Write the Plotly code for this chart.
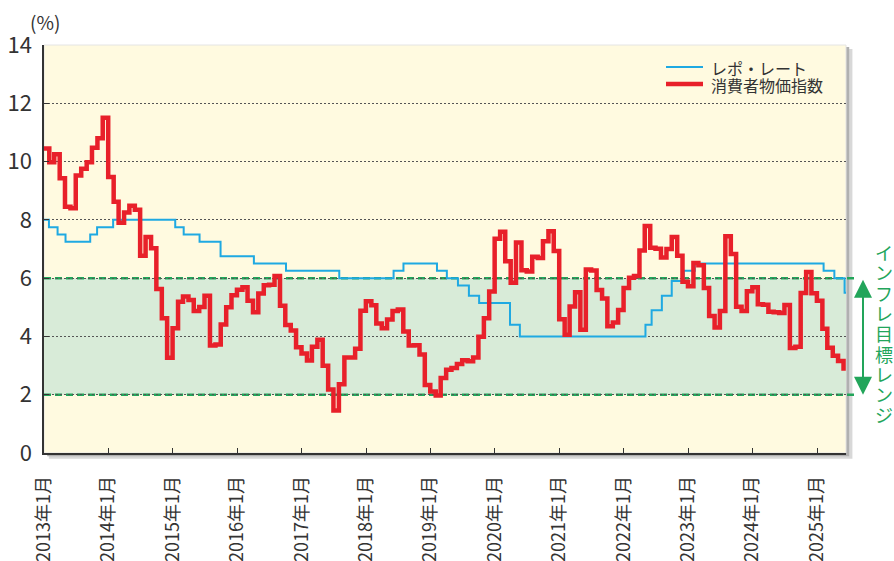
import pandas as pd
import plotly.graph_objects as go

# ---- data ----
# CPI inflation (YoY, %), monthly, Dec 2012 .. May 2025 (plotted at month end)
cpi_start = "2012-12-31"
cpi = [
    10.45,
    9.98, 10.25, 9.43, 8.45, 8.40, 9.52, 9.75, 9.98, 10.47, 10.80, 11.50, 9.47,   # 2013
    8.62, 7.90, 8.25, 8.48, 8.35, 6.77, 7.41, 7.03, 5.63, 4.62, 3.27, 4.28,       # 2014
    5.19, 5.37, 5.25, 4.87, 5.01, 5.40, 3.69, 3.72, 4.41, 5.00, 5.41, 5.60,       # 2015
    5.69, 5.22, 4.83, 5.47, 5.76, 5.77, 6.07, 5.05, 4.39, 4.20, 3.63, 3.41,       # 2016
    3.17, 3.65, 3.89, 2.99, 2.18, 1.46, 2.36, 3.28, 3.28, 3.58, 4.88, 5.21,       # 2017
    5.07, 4.44, 4.28, 4.58, 4.87, 4.92, 4.17, 3.69, 3.70, 3.38, 2.33, 2.11,       # 2018
    1.97, 2.57, 2.86, 2.92, 3.05, 3.18, 3.15, 3.28, 3.99, 4.62, 5.54, 7.35,       # 2019
    7.59, 6.58, 5.84, 7.22, 6.27, 6.23, 6.73, 6.69, 7.27, 7.61, 6.93, 4.59,       # 2020
    4.06, 5.03, 5.52, 4.23, 6.30, 6.26, 5.59, 5.30, 4.35, 4.48, 4.91, 5.66,       # 2021
    6.01, 6.07, 6.95, 7.79, 7.04, 7.01, 6.71, 7.00, 7.41, 6.77, 5.88, 5.72,       # 2022
    6.52, 6.44, 5.66, 4.70, 4.31, 4.87, 7.44, 6.83, 5.02, 4.87, 5.55, 5.69,       # 2023
    5.10, 5.09, 4.85, 4.83, 4.80, 5.08, 3.60, 3.65, 5.49, 6.21, 5.48, 5.22,       # 2024
    4.26, 3.61, 3.34, 3.16, 2.82,                                                 # 2025
]
cpi_dates = pd.date_range(cpi_start, periods=len(cpi), freq="ME")

# Repo rate (%), change dates
repo_dates = [
    "2013-01-01", "2013-01-29", "2013-03-19", "2013-05-03", "2013-09-20", "2013-10-29",
    "2014-01-28", "2015-01-15", "2015-03-04", "2015-06-02", "2015-09-29", "2016-04-05",
    "2016-10-04", "2017-08-02", "2018-06-06", "2018-08-01", "2019-02-07", "2019-04-04",
    "2019-06-06", "2019-08-07", "2019-10-04", "2020-03-27", "2020-05-22", "2022-05-04",
    "2022-06-08", "2022-08-05", "2022-09-30", "2022-12-07", "2023-02-08", "2025-02-07",
    "2025-04-09", "2025-06-06", "2025-06-30",
]
repo = [
    8.00, 7.75, 7.50, 7.25, 7.50, 7.75,
    8.00, 7.75, 7.50, 7.25, 6.75, 6.50,
    6.25, 6.00, 6.25, 6.50, 6.25, 6.00,
    5.75, 5.40, 5.15, 4.40, 4.00, 4.40,
    4.90, 5.40, 5.90, 6.25, 6.50, 6.25,
    6.00, 5.50, 5.50,
]

years = list(range(2013, 2026))
tick_vals = [f"{y}-01-01" for y in years]
tick_text = [f"{y}年1月" for y in years]
y_ticks = [0, 2, 4, 6, 8, 10, 12, 14]

target_low, target_high = 2, 6
band_label = "インフレ目標レンジ"
series_names = ["レポ・レート", "消費者物価指数"]
series_colors = ["#1fa9e2", "#e8202a"]
series_widths = [2, 4.5]

FONT = "Noto Sans CJK JP, Noto Sans, sans-serif"
GREEN = "#22a55a"

# layout geometry (pixels)
W, H = 894, 561
ML, MR, MT, MB = 44, 48, 45, 108
PW, PH = W - ML - MR, H - MT - MB


def px(xp):
    return (xp - ML) / PW


def py(yp):
    return (H - MB - yp) / PH


fig = go.Figure()
fig.add_trace(go.Scatter(
    x=repo_dates, y=repo, mode="lines", name=series_names[0],
    line=dict(color=series_colors[0], width=series_widths[0], shape="hv"),
))
fig.add_trace(go.Scatter(
    x=cpi_dates, y=cpi, mode="lines", name=series_names[1],
    line=dict(color=series_colors[1], width=series_widths[1], shape="hv"),
))

shapes = [
    # drop shadow of plot frame
    dict(type="rect", xref="paper", yref="paper", x0=0.006, x1=1.008, y0=-0.014, y1=0.99,
         fillcolor="#d8d8d8", line_width=0, layer="below"),
    dict(type="rect", xref="paper", yref="paper", x0=0.004, x1=1.004, y0=-0.008, y1=0.995,
         fillcolor="#b0b0b0", line_width=0, layer="below"),
    # plot background
    dict(type="rect", xref="paper", yref="paper", x0=0, x1=1, y0=0, y1=1,
         fillcolor="#fffae0", line=dict(color="#e4e4e4", width=1), layer="below"),
    # target band
    dict(type="rect", xref="paper", yref="y", x0=0, x1=1, y0=target_low, y1=target_high,
         fillcolor="#d8ebd8", line_width=0, layer="below"),
]
for lvl in (target_low, target_high):
    shapes.append(dict(type="line", xref="paper", yref="y", x0=0, x1=px(855), y0=lvl, y1=lvl,
                       line=dict(color=GREEN, width=2.5, dash="7px,4px"), layer="between"))

annotations = [
    dict(text="(%)", xref="paper", yref="paper", x=px(45), y=py(22), showarrow=False,
         xanchor="center", yanchor="middle", font=dict(size=19, color="#333", family=FONT)),
    # double arrow for target range
    dict(xref="paper", yref="y", x=px(863), y=target_low, axref="pixel", ax=0,
         ayref="y", ay=target_high, showarrow=True, arrowside="end+start",
         arrowhead=2, startarrowhead=2, arrowsize=1.8, startarrowsize=1.8,
         arrowwidth=2, arrowcolor=GREEN, text="", standoff=0, startstandoff=0),
]
for k, ch in enumerate(band_label):
    annotations.append(dict(
        text=ch, xref="paper", yref="paper", x=px(884), y=py(252 + k * 20.3),
        showarrow=False, xanchor="center", yanchor="middle",
        font=dict(size=18, color=GREEN, family=FONT)))

# legend drawn manually (compact, like the reference)
leg_y = [67, 84]
for name, col, wdt, yy in zip(series_names, series_colors, series_widths, leg_y):
    shapes.append(dict(type="line", xref="paper", yref="paper", x0=px(666), x1=px(703),
                       y0=py(yy), y1=py(yy), line=dict(color=col, width=wdt), layer="above"))
    annotations.append(dict(text=name, xref="paper", yref="paper", x=px(709), y=py(yy + 0.5),
                            showarrow=False, xanchor="left", yanchor="middle",
                            font=dict(size=16, color="#333", family=FONT)))

fig.update_layout(
    width=W, height=H,
    margin=dict(l=ML, r=MR, t=MT, b=MB, autoexpand=False),
    paper_bgcolor="white", plot_bgcolor="rgba(0,0,0,0)",
    font=dict(family=FONT, color="#333"),
    shapes=shapes, annotations=annotations,
    showlegend=False,
)
fig.update_xaxes(
    type="date", range=["2013-01-01", "2025-06-14"],
    tickvals=tick_vals, ticktext=tick_text, tickangle=-90,
    tickfont=dict(size=18, color="#333", family=FONT),
    ticks="inside", ticklen=5, tickcolor="#333", ticklabelstandoff=14,
    showline=True, linecolor="#333", linewidth=1.5, showgrid=False, zeroline=False,
    automargin=False,
)
fig.update_yaxes(
    range=[0, 14], tickvals=y_ticks,
    tickfont=dict(size=22, color="#333", family=FONT),
    ticks="inside", ticklen=5, tickcolor="#333", ticklabelstandoff=6,
    showline=True, linecolor="#333", linewidth=1.5,
    showgrid=True, gridcolor="#555", gridwidth=1, griddash="2px,2px", zeroline=False,
    automargin=False,
)

fig.write_html(
    "out.html",
    config={"displayModeBar": False},
    post_script="document.body.style.margin='0';document.body.style.padding='0';"
                "document.body.style.overflow='hidden';",
)
